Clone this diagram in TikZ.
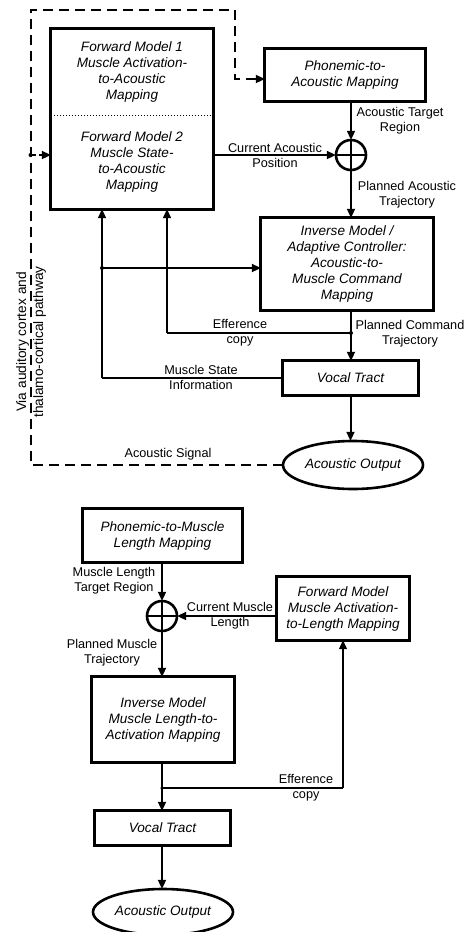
\documentclass[tikz,border=0pt]{standalone}
\usepackage{fontspec}
\setmainfont{Liberation Sans}
\usetikzlibrary{arrows.meta,calc,shapes.geometric}
\begin{document}
\begin{tikzpicture}[x=1pt,y=-1pt,
  boxtxt/.style={font=\fontsize{13.6}{16}\selectfont\itshape, align=center},
  blk/.style={boxtxt, inner sep=0pt},
  edge/.style={line width=3pt},
  lbl/.style={font=\fontsize{12.7}{15}\selectfont, align=center, inner sep=0pt},
  tip/.style={-{Triangle[length=9pt,width=8pt]}},
  conn/.style={line width=2pt, tip},
  thinln/.style={line width=1.2pt},
  dsh/.style={line width=2pt, dash pattern=on 10pt off 6pt},
  sumnode/.style={circle, minimum size=30pt, inner sep=0pt},
  jdot/.style={circle, fill, inner sep=0pt, minimum size=4pt},
  oval/.style={ellipse, boxtxt, minimum width=140pt, minimum height=48pt, inner sep=0pt}
]
\useasboundingbox (0,0) rectangle (473,932);

% ---------- upper diagram ----------
\node[blk, minimum width=162pt, minimum height=86pt] (fm1) at (132,72) {Forward Model 1\\Muscle Activation-\\to-Acoustic\\Mapping};
\node[blk, minimum width=162pt, minimum height=94pt] (fm2) at (132,162) {Forward Model 2\\Muscle State-\\to-Acoustic\\Mapping};
\draw[edge] (fm1.north west) rectangle (fm2.south east);
\draw[line width=1.2pt, dash pattern=on 1.5pt off 1.5pt] (fm1.south west) -- (fm1.south east);

\node[blk, minimum width=160pt, minimum height=52pt] (pa) at (345,75) {Phonemic-to-\\Acoustic Mapping};
\draw[edge] (pa.north west) rectangle (pa.south east);
\node[sumnode] (s1) at (351,155) {};
\draw[line width=2.6pt] (s1) circle (15);
\draw[line width=2.6pt] (s1.north) -- (s1.south) (s1.west) -- (s1.east);
\node[blk, minimum width=172pt, minimum height=92pt] (im) at (347,264) {Inverse Model /\\Adaptive Controller:\\Acoustic-to-\\Muscle Command\\Mapping};
\draw[edge] (im.north west) rectangle (im.south east);
\node[blk, minimum width=135pt, minimum height=34pt] (vt) at (350.5,378) {Vocal Tract};
\draw[edge] (vt.north west) rectangle (vt.south east);
\node[oval] (ao) at (353,465) {Acoustic Output};
\draw[line width=2.6pt] (ao) ellipse (70 and 24);

\coordinate (j1) at (351,333);
\coordinate (j2) at (102,268);
\coordinate (ex) at (167,333);
\coordinate (tl) at (30.5,10);
\coordinate (tr) at (235,10);
\coordinate (inp) at (30.5,155);

\draw[conn] (pa.south -| s1) -- (s1.north);
\draw[conn] (s1.south) -- (im.north -| s1);
\draw[conn] (fm2.east |- s1) -- (s1.west);
\draw[conn] (im.south -| j1) -- (vt.north -| j1);
\draw[thinln] (j1) -- (ex);
\draw[conn] (ex) -- (ex |- fm2.south);
\draw[thinln] (vt.west) -- (vt.west -| j2);
\draw[conn] (vt.west -| j2) -- (j2 |- fm2.south);
\draw[conn] (j2) -- (j2 -| im.west);
\draw[conn] (vt.south) -- (vt.south |- ao.north);
\draw[dsh, tip] (ao.west) -| (tl) -- (tr) |- ($(pa.west)+(0,4)$);
\draw[line width=2pt, dash pattern=on 5pt off 3pt, tip] (inp) -- (inp -| fm2.west);
\node[jdot] (d1) at (j1) {};
\node[jdot] (d2) at (j2) {};
\node[jdot] (d3) at (inp) {};

\node[lbl] (l1) at (400,121) {Acoustic Target\\Region};
\node[lbl] (l2) at (275,155.5) {Current Acoustic\\Position};
\node[lbl] (l3) at (407,195) {Planned Acoustic\\Trajectory};
\node[lbl] (l4) at (240,333) {Efference\\copy};
\node[lbl] (l5) at (410,334) {Planned Command\\Trajectory};
\node[lbl] (l6) at (201,377) {Muscle State\\Information};
\node[lbl] (l7) at (168,454) {Acoustic Signal};
\node[lbl, rotate=90, font=\fontsize{13.7}{17}\selectfont] (l8) at (31,342) {Via auditory cortex and\\thalamo-cortical pathway};

% ---------- lower diagram ----------
\node[blk, minimum width=159pt, minimum height=53pt] (pm) at (162.5,535.5) {Phonemic-to-Muscle\\Length Mapping};
\draw[edge] (pm.north west) rectangle (pm.south east);
\node[sumnode] (s2) at (162,616) {};
\draw[line width=2.6pt] (s2) circle (15);
\draw[line width=2.6pt] (s2.north) -- (s2.south) (s2.west) -- (s2.east);
\node[blk, minimum width=132pt, minimum height=63pt] (fm3) at (343,608.5) {Forward Model\\Muscle Activation-\\to-Length Mapping};
\draw[edge] (fm3.north west) rectangle (fm3.south east);
\node[blk, minimum width=142pt, minimum height=85pt] (im2) at (163,719.5) {Inverse Model\\Muscle Length-to-\\Activation Mapping};
\draw[edge] (im2.north west) rectangle (im2.south east);
\node[blk, minimum width=135pt, minimum height=34pt] (vt2) at (162.5,828) {Vocal Tract};
\draw[edge] (vt2.north west) rectangle (vt2.south east);
\node[oval, minimum height=46pt] (ao2) at (163,912) {Acoustic Output};
\draw[line width=2.6pt] (ao2) ellipse (70 and 23);

\coordinate (j3) at (162,788);
\coordinate (ex2) at (343,788);

\draw[conn] (pm.south -| s2) -- (s2.north);
\draw[conn] (fm3.west |- s2) -- (s2.east);
\draw[conn] (s2.south) -- (im2.north -| s2);
\draw[conn] (im2.south -| j3) -- (vt2.north -| j3);
\draw[thinln] (j3) -- (ex2);
\draw[thinln, tip] (ex2) -- (ex2 |- fm3.south);
\draw[conn] (vt2.south -| j3) -- (ao2.north -| j3);
\node[jdot, minimum size=3.5pt] (d4) at (j3) {};

\node[lbl] (l9) at (114,580.5) {Muscle Length\\Target Region};
\node[lbl] (l10) at (230,615.5) {Current Muscle\\Length};
\node[lbl] (l11) at (112,652.5) {Planned Muscle\\Trajectory};
\node[lbl] (l12) at (306,788) {Efference\\copy};
\end{tikzpicture}
\end{document}
